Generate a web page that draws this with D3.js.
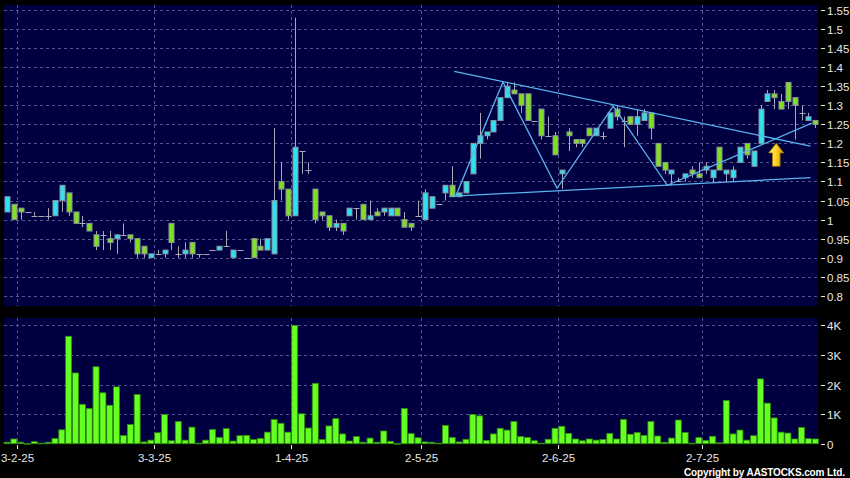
<!DOCTYPE html>
<html><head><meta charset="utf-8">
<script src="https://cdn.jsdelivr.net/npm/d3@7"></script>
<style>html,body{margin:0;padding:0;background:#000;}svg{display:block;}</style>
</head><body>
<svg id="c" width="850" height="478"></svg>
<script>
// ---- data ----
const opens  = [1.02,1.04,1.03,1.02,1.01,1.01,1.01,1.01,1.05,1.07,1.02,0.99,0.99,0.96,0.96,0.95,0.95,0.96,0.96,0.95,
  0.93,0.90,0.91,0.91,0.99,0.91,0.91,0.94,0.91,0.91,0.92,0.92,0.93,0.90,0.92,0.90,0.95,0.93,0.92,0.91,
  1.10,1.08,1.01,1.18,1.13,1.08,1.02,1.01,0.98,0.99,1.01,1.03,1.04,1.00,1.02,1.02,1.01,1.03,1.00,0.99,
  1.01,1.00,1.03,1.04,1.07,1.09,1.06,1.07,1.12,1.20,1.22,1.23,1.26,1.32,1.34,1.33,1.33,1.26,1.29,1.22,
  1.22,1.12,1.23,1.21,1.21,1.24,1.22,1.22,1.24,1.29,1.26,1.27,1.25,1.26,1.28,1.20,1.15,1.12,1.10,1.11,
  1.13,1.12,1.13,1.11,1.19,1.12,1.11,1.15,1.20,1.14,1.20,1.31,1.33,1.31,1.36,1.32,1.28,1.26,1.26];
const highs  = [1.06,1.04,1.03,1.02,1.02,1.01,1.03,1.05,1.09,1.07,1.02,1.01,0.99,0.97,0.97,0.97,0.96,0.99,0.96,0.95,
  0.93,0.91,0.92,0.92,0.99,0.93,0.94,0.94,0.91,0.91,0.92,0.93,0.97,0.92,0.92,0.90,0.95,0.95,0.95,1.24,
  1.15,1.08,1.53,1.18,1.15,1.08,1.02,1.01,1.00,0.99,1.03,1.03,1.04,1.05,1.03,1.03,1.03,1.03,1.02,0.99,
  1.05,1.08,1.06,1.04,1.09,1.14,1.07,1.10,1.20,1.28,1.23,1.26,1.32,1.36,1.36,1.33,1.33,1.26,1.29,1.27,
  1.23,1.13,1.24,1.21,1.21,1.24,1.24,1.23,1.28,1.30,1.27,1.27,1.29,1.29,1.28,1.20,1.15,1.13,1.11,1.12,
  1.14,1.15,1.15,1.13,1.19,1.13,1.14,1.19,1.20,1.18,1.30,1.34,1.34,1.33,1.36,1.32,1.30,1.28,1.26];
const lows   = [1.02,1.00,1.00,1.02,1.01,1.01,1.00,1.01,1.02,1.01,0.99,0.98,0.97,0.92,0.92,0.92,0.91,0.96,0.94,0.90,
  0.90,0.90,0.91,0.90,0.92,0.90,0.90,0.90,0.90,0.91,0.92,0.92,0.93,0.90,0.92,0.90,0.90,0.92,0.92,0.91,
  1.05,1.00,1.01,1.12,1.12,0.99,1.00,0.97,0.97,0.96,1.01,1.00,1.00,1.00,1.01,1.01,1.01,1.01,0.98,0.97,
  1.01,1.00,1.03,1.04,1.05,1.06,1.06,1.07,1.12,1.16,1.21,1.23,1.26,1.32,1.33,1.28,1.26,1.26,1.21,1.22,
  1.17,1.08,1.18,1.19,1.19,1.22,1.22,1.21,1.24,1.26,1.19,1.25,1.22,1.26,1.21,1.14,1.12,1.09,1.10,1.10,
  1.11,1.11,1.12,1.10,1.13,1.10,1.10,1.15,1.16,1.14,1.20,1.31,1.29,1.29,1.29,1.21,1.26,1.26,1.24];
const closes = [1.06,1.00,1.02,1.02,1.01,1.01,1.01,1.05,1.09,1.02,0.99,0.99,0.97,0.93,0.96,0.94,0.96,0.96,0.95,0.91,
  0.91,0.91,0.91,0.92,0.94,0.91,0.92,0.91,0.91,0.91,0.92,0.93,0.93,0.92,0.92,0.90,0.90,0.92,0.95,1.05,
  1.08,1.01,1.19,1.18,1.13,1.00,1.01,0.98,0.99,0.97,1.03,1.03,1.00,1.01,1.01,1.03,1.03,1.01,0.98,0.98,
  1.01,1.07,1.06,1.04,1.09,1.06,1.07,1.10,1.20,1.22,1.23,1.26,1.32,1.35,1.33,1.30,1.26,1.26,1.22,1.22,
  1.17,1.13,1.22,1.20,1.20,1.22,1.24,1.22,1.28,1.27,1.26,1.25,1.27,1.28,1.24,1.14,1.13,1.13,1.10,1.12,
  1.12,1.11,1.14,1.13,1.13,1.13,1.13,1.19,1.17,1.18,1.29,1.33,1.32,1.29,1.31,1.30,1.28,1.27,1.25];
const volumes = [50,160,50,10,70,20,50,180,470,3630,2390,1330,1190,2600,1720,1300,1920,280,650,1660,
  60,120,370,990,100,750,120,560,20,120,480,210,510,90,270,280,140,180,390,820,
  690,390,4000,1010,530,2040,140,600,850,330,90,240,50,190,50,430,80,10,1190,340,
  200,60,50,20,620,210,60,150,990,940,110,330,520,460,750,240,210,100,20,150,
  520,590,350,160,100,160,120,140,350,160,820,320,380,280,750,260,50,190,800,380,
  20,210,110,250,30,1460,330,460,120,270,2190,1370,870,390,360,160,550,170,160];
const dateTickIndex = [2,22,42,61,81,102];
const dateTickLabels = ["3-2-25","3-3-25","1-4-25","2-5-25","2-6-25","2-7-25"];
const priceTicks = [0.8,0.85,0.9,0.95,1.0,1.05,1.1,1.15,1.2,1.25,1.3,1.35,1.4,1.45,1.5,1.55];
const volumeTicks = [0,1000,2000,3000,4000];
const volumeTickLabels = ["0","1K","2K","3K","4K"];
// drawn trend lines (index, price)
const upperTrend = [[65.3,1.389],[117.3,1.1925]];
const lowerTrend = [[64.6,1.061],[117.3,1.110]];
const zigzag = [[65.5,1.061],[72.4,1.361],[80.3,1.082],[88.5,1.298],[96.4,1.090],[117.5,1.253]];
const arrowMark = {index:112.3, top:1.20, neck:1.175, bottom:1.14};

// ---- layout ----
const svg = d3.select("#c");
const W = 850, H = 478;
const plotL = 4, plotR = 818;
const pTop = 5, pBot = 306, vTop = 318, vBot = 444;
const bg = "#000040", gridC = "#55558f";
const font = "'Liberation Sans', Arial, sans-serif";

svg.append("rect").attr("width",W).attr("height",H).attr("fill","#000");
svg.append("rect").attr("x",plotL).attr("y",pTop).attr("width",plotR-plotL).attr("height",pBot-pTop).attr("fill",bg);
svg.append("rect").attr("x",plotL).attr("y",vTop).attr("width",plotR-plotL).attr("height",vBot-vTop).attr("fill",bg);

const n = opens.length;
const x = d3.scaleLinear().domain([0, n-1]).range([7, 815.3]);
const step = x(1)-x(0);
const y = d3.scaleLinear().domain([0.8,1.55]).range([295.8,10]);
const yv = d3.scaleLinear().domain([0,4000]).range([443.7,325.3]);

// grid
const g = svg.append("g").attr("stroke",gridC).attr("stroke-width",1).attr("stroke-dasharray","3,3");
priceTicks.forEach(t=>{
  g.append("line").attr("x1",plotL).attr("x2",plotR).attr("y1",Math.round(y(t))+0.5).attr("y2",Math.round(y(t))+0.5);
});
volumeTicks.slice(1).forEach(t=>{
  g.append("line").attr("x1",plotL).attr("x2",plotR).attr("y1",Math.round(yv(t))+0.5).attr("y2",Math.round(yv(t))+0.5);
});
dateTickIndex.forEach(i=>{
  const gx = Math.round(x(i)-step/2)+0.5;
  g.append("line").attr("x1",gx).attr("x2",gx).attr("y1",pTop).attr("y2",pBot);
  g.append("line").attr("x1",gx).attr("x2",gx).attr("y1",vTop).attr("y2",vBot);
});

// candles
const cUp = "#30e0f0", cDn = "#80e020", wickC = "#a8a8b8";
const cg = svg.append("g");
for (let i=0;i<n;i++){
  const cx = Math.round(x(i))+0.5;
  cg.append("line").attr("x1",cx).attr("x2",cx).attr("y1",y(highs[i])).attr("y2",y(lows[i]))
    .attr("stroke",wickC).attr("stroke-width",1);
  if (Math.abs(opens[i]-closes[i])<1e-9){
    const yy = Math.round(y(opens[i]))+0.5;
    cg.append("line").attr("x1",cx-3).attr("x2",cx+3).attr("y1",yy).attr("y2",yy)
      .attr("stroke",wickC).attr("stroke-width",1);
  } else {
    const t = y(Math.max(opens[i],closes[i])), b = y(Math.min(opens[i],closes[i]));
    cg.append("rect").attr("x",cx-2.5).attr("y",t).attr("width",5).attr("height",Math.max(1,b-t))
      .attr("fill", closes[i]>opens[i]?cUp:cDn).attr("stroke","#8a94a0").attr("stroke-width",1);
  }
}

// trend lines
const line = d3.line().x(d=>x(d[0])).y(d=>y(d[1]));
const lc = "#5ab4ee";
[upperTrend, lowerTrend, zigzag].forEach(pts=>{
  svg.append("path").attr("d",line(pts)).attr("fill","none").attr("stroke",lc).attr("stroke-width",1.3);
});

// arrow
const defs = svg.append("defs");
const grad = defs.append("linearGradient").attr("id","ag").attr("x1","0").attr("x2","1").attr("y1","0").attr("y2","0");
grad.append("stop").attr("offset","0").attr("stop-color","#fff2a0");
grad.append("stop").attr("offset","0.5").attr("stop-color","#ffd21e");
grad.append("stop").attr("offset","1").attr("stop-color","#d08a00");
const ax = x(arrowMark.index), aT = y(arrowMark.top), aN = y(arrowMark.neck), aB = y(arrowMark.bottom);
svg.append("path").attr("d",`M${ax},${aT} L${ax+7.5},${aN} L${ax+3.8},${aN} L${ax+3.8},${aB} L${ax-3.8},${aB} L${ax-3.8},${aN} L${ax-7.5},${aN} Z`)
  .attr("fill","url(#ag)").attr("stroke","#b07800").attr("stroke-width",0.8);

// volume bars
const vg = svg.append("g");
for (let i=0;i<n;i++){
  const cx = x(i);
  const t = yv(volumes[i]);
  vg.append("rect").attr("x",cx-3).attr("y",t).attr("width",6).attr("height",Math.max(0.8,yv(0)-t))
    .attr("fill","#66ff22").attr("stroke","#2f8a0c").attr("stroke-width",0.8);
}

// right axis labels
const txtC = "#e6e6e6";
priceTicks.forEach(t=>{
  const yy = Math.round(y(t))+0.5;
  svg.append("line").attr("x1",821).attr("x2",825).attr("y1",yy).attr("y2",yy).attr("stroke",txtC);
  svg.append("text").attr("x",827).attr("y",yy).attr("dy","0.36em").attr("fill",txtC)
    .attr("font-family",font).attr("font-size",11.5).text(String(+t.toFixed(2)));
});
volumeTicks.forEach((t,k)=>{
  const yy = Math.round(yv(t))+0.5;
  svg.append("line").attr("x1",821).attr("x2",825).attr("y1",yy).attr("y2",yy).attr("stroke",txtC);
  svg.append("text").attr("x",827).attr("y",yy).attr("dy","0.36em").attr("fill",txtC)
    .attr("font-family",font).attr("font-size",11.5).text(volumeTickLabels[k]);
});

// bottom date labels
dateTickIndex.forEach((i,k)=>{
  const gx = Math.round(x(i)-step/2)+0.5;
  svg.append("line").attr("x1",gx).attr("x2",gx).attr("y1",445).attr("y2",449).attr("stroke",txtC);
  svg.append("text").attr("x",gx).attr("y",458).attr("dy","0.36em").attr("text-anchor","middle")
    .attr("fill",txtC).attr("font-family",font).attr("font-size",11.5).text(dateTickLabels[k]);
});

// copyright
svg.append("text").attr("x",684).attr("y",476).attr("fill","#fff").attr("font-family",font)
  .attr("font-weight","bold").attr("font-size",10).attr("textLength",161).attr("lengthAdjust","spacing")
  .text("Copyright by AASTOCKS.com Ltd.");
</script>
</body></html>
